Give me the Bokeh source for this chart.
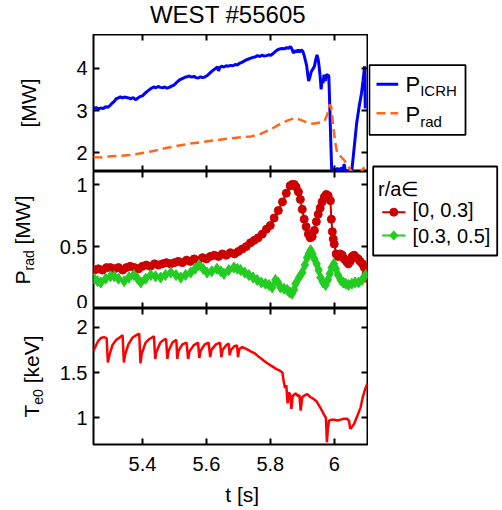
import math
from bokeh.plotting import figure
from bokeh.models import (Range1d, LinearAxis, FixedTicker, Label, BoxAnnotation, Arrow,
                          PolyAnnotation)
from bokeh.layouts import column, row
from bokeh.embed import file_html
from bokeh.resources import INLINE

FONT = "Liberation Sans"

# ---------------- data ----------------
title_text = "WEST #55605"

t_icrh = [5.247, 5.255, 5.262, 5.270, 5.278, 5.285, 5.292, 5.300, 5.306, 5.312, 5.318, 5.325,
          5.331, 5.337, 5.343, 5.350, 5.357, 5.364, 5.371, 5.378, 5.385, 5.392, 5.400, 5.407,
          5.414, 5.421, 5.428, 5.435, 5.442, 5.449, 5.456, 5.463, 5.470, 5.477, 5.484, 5.491,
          5.498, 5.505, 5.512, 5.519, 5.526, 5.533, 5.540, 5.547, 5.554, 5.561, 5.568, 5.575,
          5.582, 5.589, 5.596, 5.603, 5.610, 5.617, 5.624, 5.630, 5.634, 5.638, 5.642, 5.648,
          5.655, 5.662, 5.669, 5.676, 5.683, 5.690, 5.697, 5.704, 5.711, 5.718, 5.725, 5.732,
          5.739, 5.746, 5.753, 5.760, 5.767, 5.774, 5.781, 5.788, 5.795, 5.802, 5.809, 5.816,
          5.823, 5.830, 5.837, 5.844, 5.851, 5.858, 5.863, 5.868, 5.872, 5.877, 5.882, 5.887,
          5.892, 5.897, 5.902, 5.906, 5.910, 5.914, 5.917, 5.920, 5.924, 5.928, 5.933, 5.938,
          5.942, 5.946, 5.950, 5.953, 5.956, 5.959, 5.962, 5.965, 5.968, 5.972, 5.976, 5.980,
          5.983, 5.986, 5.989, 5.992, 5.998, 6.005, 6.010, 6.016, 6.022, 6.028, 6.031, 6.034,
          6.040, 6.048, 6.055, 6.062, 6.070, 6.078, 6.085, 6.090, 6.095, 6.097]
p_icrh = [3.05, 3.07, 3.04, 3.06, 3.05, 3.09, 3.08, 3.13, 3.18, 3.22, 3.28, 3.30,
          3.33, 3.30, 3.32, 3.31, 3.30, 3.28, 3.31, 3.26, 3.29, 3.33, 3.35, 3.40,
          3.45, 3.49, 3.53, 3.56, 3.54, 3.57, 3.55, 3.54, 3.56, 3.53, 3.55, 3.58,
          3.60, 3.65, 3.70, 3.74, 3.76, 3.79, 3.80, 3.82, 3.79, 3.81, 3.78, 3.77,
          3.80, 3.78, 3.80, 3.83, 3.88, 3.93, 3.97, 4.00, 4.04, 3.94, 4.02, 4.05,
          4.03, 4.06, 4.05, 4.07, 4.06, 4.09, 4.08, 4.12, 4.14, 4.17, 4.20, 4.22,
          4.24, 4.26, 4.27, 4.30, 4.28, 4.31, 4.29, 4.30, 4.32, 4.31, 4.35, 4.40,
          4.44, 4.46, 4.47, 4.46, 4.49, 4.47, 4.52, 4.45, 4.36, 4.42, 4.38, 4.44,
          4.38, 4.44, 4.40, 4.30, 4.18, 4.05, 3.85, 3.70, 3.80, 3.92, 3.98, 4.05,
          4.20, 4.32, 4.20, 4.02, 3.80, 3.50, 3.75, 3.65, 3.85, 3.70, 3.85, 3.84,
          3.82, 3.10, 2.30, 1.60, 1.62, 1.60, 1.63, 1.60, 1.64, 1.61, 1.74, 1.60,
          1.58, 1.57, 1.58, 2.10, 2.70, 3.10, 3.40, 3.70, 4.05, 3.05]

t_prad = [5.247, 5.270, 5.300, 5.330, 5.360, 5.395, 5.430, 5.470, 5.510, 5.550, 5.590, 5.630,
          5.670, 5.710, 5.740, 5.770, 5.800, 5.830, 5.855, 5.875, 5.895, 5.915, 5.935, 5.955,
          5.970, 5.978, 5.985, 5.990, 5.996, 6.002, 6.009, 6.020, 6.032, 6.042, 6.052, 6.065,
          6.080, 6.090, 6.100]
p_prad = [1.90, 1.89, 1.92, 1.93, 1.95, 1.99, 2.04, 2.11, 2.17, 2.22, 2.26, 2.30,
          2.34, 2.37, 2.39, 2.45, 2.55, 2.68, 2.77, 2.82, 2.78, 2.72, 2.69, 2.72,
          2.76, 2.90, 3.14, 3.10, 2.70, 2.30, 2.00, 1.92, 1.82, 1.70, 1.58, 1.50,
          1.50, 1.62, 1.72]

t_core = [5.250, 5.262, 5.275, 5.288, 5.300, 5.312, 5.325, 5.338, 5.350, 5.362, 5.375, 5.388,
          5.400, 5.412, 5.425, 5.438, 5.450, 5.462, 5.475, 5.488, 5.500, 5.512, 5.525, 5.538,
          5.550, 5.562, 5.575, 5.588, 5.600, 5.612, 5.625, 5.638, 5.650, 5.662, 5.675, 5.688,
          5.700, 5.712, 5.725, 5.738, 5.750, 5.762, 5.775, 5.788, 5.800, 5.812, 5.825, 5.838,
          5.850, 5.862, 5.868, 5.875, 5.881, 5.888, 5.894, 5.900, 5.906, 5.912, 5.919, 5.925,
          5.931, 5.938, 5.944, 5.950, 5.956, 5.962, 5.969, 5.975, 5.981, 5.988, 5.991, 5.994,
          5.997, 6.000, 6.006, 6.012, 6.019, 6.025, 6.031, 6.038, 6.044, 6.050, 6.056, 6.062,
          6.069, 6.075, 6.081, 6.088, 6.094, 6.100, 6.106]
prad_core = [0.31, 0.32, 0.31, 0.33, 0.33, 0.32, 0.33, 0.31, 0.33, 0.34, 0.33, 0.32,
             0.34, 0.35, 0.34, 0.36, 0.35, 0.36, 0.37, 0.36, 0.37, 0.38, 0.37, 0.39,
             0.38, 0.40, 0.39, 0.41, 0.40, 0.42, 0.43, 0.42, 0.44, 0.43, 0.45, 0.44,
             0.46, 0.48, 0.50, 0.53, 0.55, 0.57, 0.60, 0.64, 0.67, 0.73, 0.79, 0.86,
             0.93, 0.99, 1.00, 1.00, 0.98, 0.94, 0.88, 0.80, 0.72, 0.66, 0.60, 0.57,
             0.58, 0.63, 0.70, 0.76, 0.81, 0.86, 0.90, 0.92, 0.91, 0.87, 0.72, 0.62,
             0.56, 0.52, 0.44, 0.42, 0.44, 0.43, 0.40, 0.38, 0.36, 0.38, 0.42, 0.43,
             0.41, 0.40, 0.38, 0.36, 0.33, 0.28, 0.24]

t_mid = [5.249, 5.260, 5.270, 5.285, 5.300, 5.312, 5.325, 5.343, 5.358, 5.373, 5.385, 5.395,
         5.410, 5.426, 5.441, 5.457, 5.472, 5.489, 5.505, 5.520, 5.535, 5.551, 5.565, 5.577,
         5.590, 5.602, 5.617, 5.633, 5.645, 5.655, 5.670, 5.686, 5.697, 5.707, 5.720, 5.733,
         5.746, 5.759, 5.772, 5.785, 5.796, 5.806, 5.816, 5.824, 5.832, 5.843, 5.853, 5.861,
         5.868, 5.874, 5.879, 5.890, 5.900, 5.908, 5.915, 5.920, 5.926, 5.932, 5.938, 5.945,
         5.951, 5.957, 5.965, 5.973, 5.980, 5.986, 5.992, 5.999, 6.005, 6.012, 6.020, 6.028,
         6.036, 6.045, 6.055, 6.065, 6.076, 6.087, 6.098]
prad_mid = [0.24, 0.22, 0.21, 0.24, 0.26, 0.26, 0.24, 0.22, 0.25, 0.27, 0.24, 0.21,
            0.24, 0.27, 0.26, 0.25, 0.27, 0.29, 0.27, 0.25, 0.27, 0.29, 0.32, 0.35,
            0.32, 0.29, 0.30, 0.32, 0.30, 0.28, 0.31, 0.33, 0.32, 0.31, 0.29, 0.27,
            0.25, 0.23, 0.21, 0.20, 0.19, 0.17, 0.23, 0.21, 0.17, 0.16, 0.15, 0.13,
            0.12, 0.15, 0.20, 0.25, 0.29, 0.35, 0.41, 0.44, 0.47, 0.44, 0.40, 0.36,
            0.31, 0.25, 0.21, 0.19, 0.23, 0.28, 0.33, 0.36, 0.32, 0.27, 0.23, 0.21,
            0.20, 0.19, 0.20, 0.21, 0.21, 0.23, 0.27]

t_te = [5.247, 5.255, 5.262, 5.270, 5.280, 5.288, 5.292, 5.296, 5.306, 5.318, 5.330, 5.338,
        5.342, 5.346, 5.356, 5.368, 5.380, 5.390, 5.394, 5.398, 5.410, 5.422, 5.436, 5.440,
        5.444, 5.456, 5.466, 5.474, 5.478, 5.482, 5.494, 5.506, 5.509, 5.513, 5.525, 5.538,
        5.543, 5.547, 5.560, 5.574, 5.578, 5.582, 5.595, 5.607, 5.612, 5.616, 5.630, 5.643,
        5.647, 5.651, 5.662, 5.670, 5.673, 5.677, 5.688, 5.696, 5.699, 5.703, 5.712, 5.725,
        5.740, 5.752, 5.765, 5.780, 5.792, 5.805, 5.818, 5.830, 5.838, 5.842, 5.846, 5.850,
        5.854, 5.858, 5.862, 5.866, 5.870, 5.876, 5.880, 5.886, 5.891, 5.895, 5.900, 5.908,
        5.916, 5.925, 5.935, 5.945, 5.955, 5.963, 5.970, 5.974, 5.977, 5.980, 5.984, 5.992,
        6.000, 6.010, 6.020, 6.030, 6.040, 6.046, 6.050, 6.056, 6.063, 6.072, 6.082, 6.090,
        6.097, 6.104]
te0 = [1.74, 1.80, 1.85, 1.88, 1.89, 1.88, 1.61, 1.68, 1.80, 1.86, 1.89, 1.91,
       1.61, 1.70, 1.81, 1.88, 1.91, 1.93, 1.60, 1.71, 1.83, 1.87, 1.90, 1.65,
       1.73, 1.83, 1.86, 1.87, 1.65, 1.74, 1.83, 1.86, 1.65, 1.74, 1.81, 1.83,
       1.65, 1.73, 1.80, 1.83, 1.66, 1.74, 1.81, 1.83, 1.67, 1.75, 1.81, 1.83,
       1.67, 1.75, 1.80, 1.82, 1.69, 1.75, 1.79, 1.80, 1.67, 1.76, 1.78, 1.76,
       1.73, 1.71, 1.67, 1.63, 1.60, 1.57, 1.54, 1.52, 1.50, 1.40, 1.33, 1.36,
       1.16, 1.28, 1.26, 1.10, 1.24, 1.26, 1.27, 1.24, 1.25, 1.08, 1.23, 1.25,
       1.26, 1.23, 1.21, 1.18, 1.12, 1.07, 1.02, 1.00, 0.73, 0.88, 0.97, 0.98,
       0.98, 0.97, 0.98, 0.99, 0.99, 0.97, 0.88, 0.90, 0.94, 1.02, 1.11, 1.24,
       1.32, 1.38]

x_ticks = [5.4, 5.6, 5.8, 6.0]
x_tick_labels = ["5.4", "5.6", "5.8", "6"]
top_ticks = [2, 3, 4]
top_tick_labels = ["2", "3", "4"]
mid_ticks = [0, 0.5, 1]
mid_tick_labels = ["0", "0.5", "1"]
bot_ticks = [1, 1.5, 2]
bot_tick_labels = ["1", "1.5", "2"]

legend1_names = [("P", "ICRH"), ("P", "rad")]
legend2_title = "r/a\u2208"
legend2_names = ["[0, 0.3]", "[0.3, 0.5]"]
x_label = "t [s]"

# ---------------- styles / layout constants ----------------
H = 510          # total height
LW = 55          # left label strip width
FW = 274         # frame width of the data panels
BL = 38          # left border of the data panels (tick labels)
RW = 134         # right legend strip width
BLUE = "#0000FF"
ORANGE = "#FF6619"
DRED = "#CC0000"
GREEN = "#22CC22"
RED = "#FF0000"
UP = math.pi / 2
MID = 0.3465     # (ascent - descent) / 2 of the font, in em


def add_axis(p, side, ticks, labels=None):
    ax = LinearAxis(ticker=FixedTicker(ticks=ticks, minor_ticks=[]),
                    major_tick_in=6, major_tick_out=0, minor_tick_in=0, minor_tick_out=0,
                    axis_line_color=None, major_tick_line_color="black",
                    major_tick_line_width=2)
    if labels is not None:
        ax.major_label_overrides = {t: l for t, l in zip(ticks, labels)}
        ax.major_label_text_font = FONT
        ax.major_label_text_font_size = "20px"
        ax.major_label_text_color = "black"
        ax.major_label_standoff = 6 if side == "left" else 12
    else:
        ax.major_label_overrides = {t: "" for t in ticks}
        ax.major_label_text_font_size = "0px"
        ax.major_label_standoff = 0
    p.add_layout(ax, side)
    return ax


def make_fig(y_range, fh, bottom, yticks, ylabels, xlabels=None):
    p = figure(frame_width=FW, frame_height=fh, x_range=Range1d(5.247, 6.104),
               y_range=y_range, output_backend="svg", toolbar_location=None,
               x_axis_location=None, y_axis_location=None, title_location=None,
               min_border_left=BL, min_border_right=1,
               min_border_top=0, min_border_bottom=bottom)
    p.grid.visible = False
    p.outline_line_color = "black"
    p.outline_line_width = 2
    p.background_fill_color = "white"
    p.border_fill_color = "white"
    add_axis(p, "left", yticks, ylabels)
    add_axis(p, "right", yticks)
    add_axis(p, "above", x_ticks)
    add_axis(p, "below", x_ticks, xlabels)
    return p


def blank(w, h):
    p = figure(width=w, height=h, x_range=Range1d(0, 1), y_range=Range1d(0, 1),
               output_backend="svg", toolbar_location=None, title_location=None,
               x_axis_location=None, y_axis_location=None, min_border=0)
    p.grid.visible = False
    p.outline_line_color = None
    p.background_fill_color = "white"
    p.border_fill_color = "white"
    return p


def lab(p, text, x, y, size, angle=0.0, align="left"):
    """x, y: start (or centre) of the text baseline, screen px from the frame's bottom-left."""
    if angle:
        x = x - MID * size
    else:
        y = y + MID * size
    p.add_layout(Label(x=x, y=y, x_units="screen", y_units="screen", text=text,
                       angle=angle, text_align=align, text_baseline="middle",
                       text_font=FONT, text_font_size=f"{size}px", text_color="black"))


def box(p, l, r, b, t, fill="white", line="black", lw=1.8, radius=0):
    p.add_layout(BoxAnnotation(left=l, right=r, bottom=b, top=t,
                               left_units="screen", right_units="screen",
                               bottom_units="screen", top_units="screen",
                               fill_color=fill, fill_alpha=1.0,
                               line_color=line, line_width=lw, line_alpha=1.0,
                               border_radius=radius))


def seg(p, x0, x1, y, color, width, dash="solid"):
    p.add_layout(Arrow(x_start=x0, y_start=y, x_end=x1, y_end=y,
                       start_units="screen", end_units="screen", start=None, end=None,
                       line_color=color, line_width=width, line_dash=dash))


# ---------------- data panels ----------------
p1 = make_fig(Range1d(1.56, 4.8), 137, 0, top_ticks, top_tick_labels)
p1.line(t_icrh, p_icrh, line_color=BLUE, line_width=3)
p1.line(t_prad, p_prad, line_color=ORANGE, line_width=2.5, line_dash="9 5")

p2 = make_fig(Range1d(0, 1.105), 137, 0, mid_ticks, mid_tick_labels)
p2.line(t_core, prad_core, line_color=DRED, line_width=2)
p2.scatter(t_core, prad_core, marker="circle", size=8, fill_color=DRED, line_color=DRED)
p2.line(t_mid, prad_mid, line_color=GREEN, line_width=2)
p2.scatter(t_mid, prad_mid, marker="diamond", size=11, fill_color=GREEN, line_color=GREEN)

p3 = make_fig(Range1d(0.706, 2.206), 136, 32, bot_ticks, bot_tick_labels, x_tick_labels)
p3.line(t_te, te0, line_color=RED, line_width=2.5)

# ---------------- title strip and x-label strip (frames aligned with the panels) ----------
pt = blank(BL + FW + 1, 34)
lab(pt, title_text, 134.5, 11.3, 24, align="center")
px = blank(BL + FW + 1, 34)
lab(px, x_label, 148.7, 8.5, 21, align="center")

# ---------------- left strip: y-axis labels ----------------
pl = blank(LW, H)
lab(pl, "[MW]", 35, H - 102.5, 21, angle=UP, align="center")
lab(pl, "P", 29, H - 284, 21, angle=UP)
lab(pl, "rad", 33, H - 270, 14, angle=UP)
lab(pl, "[MW]", 29, H - 244, 21, angle=UP)
lab(pl, "T", 38.5, H - 417, 21, angle=UP)
lab(pl, "e0", 42, H - 404.2, 14, angle=UP)
lab(pl, "[keV]", 38.5, H - 382.8, 21, angle=UP)

# ---------------- right strip: legends ----------------
pr = blank(RW, H)
# legend 1
box(pr, 0.9, 97, H - 134.3, H - 64.7)
seg(pr, 8, 29.7, H - 83.7, BLUE, 3)
seg(pr, 8, 29.7, H - 112.7, ORANGE, 2.5, "9 5")
lab(pr, legend1_names[0][0], 37, H - 91.3, 22)
lab(pr, legend1_names[0][1], 51.7, H - 95.3, 15)
lab(pr, legend1_names[1][0], 37, H - 121.3, 22)
lab(pr, legend1_names[1][1], 51.7, H - 125.8, 15)
# legend 2
box(pr, 4.7, 128.7, H - 255, H - 166)
lab(pr, legend2_title, 9.5, H - 195, 20)
seg(pr, 13.7, 37, H - 211.7, DRED, 2)
box(pr, 21.3, 29.3, H - 215.7, H - 207.7, fill=DRED, line=DRED, lw=1, radius=4)
lab(pr, legend2_names[0], 44, H - 216.7, 20)
seg(pr, 13.7, 37, H - 235, GREEN, 2)
pr.add_layout(PolyAnnotation(xs=[20.8, 25.3, 29.8, 25.3],
                             ys=[H - 235, H - 230, H - 235, H - 240],
                             xs_units="screen", ys_units="screen",
                             fill_color=GREEN, fill_alpha=1.0, line_color=GREEN))
lab(pr, legend2_names[1], 44, H - 242.7, 20)

layout = row(pl, column(pt, p1, p2, p3, px, spacing=0), pr, spacing=0)
open("out.html", "w").write(file_html(layout, INLINE))
